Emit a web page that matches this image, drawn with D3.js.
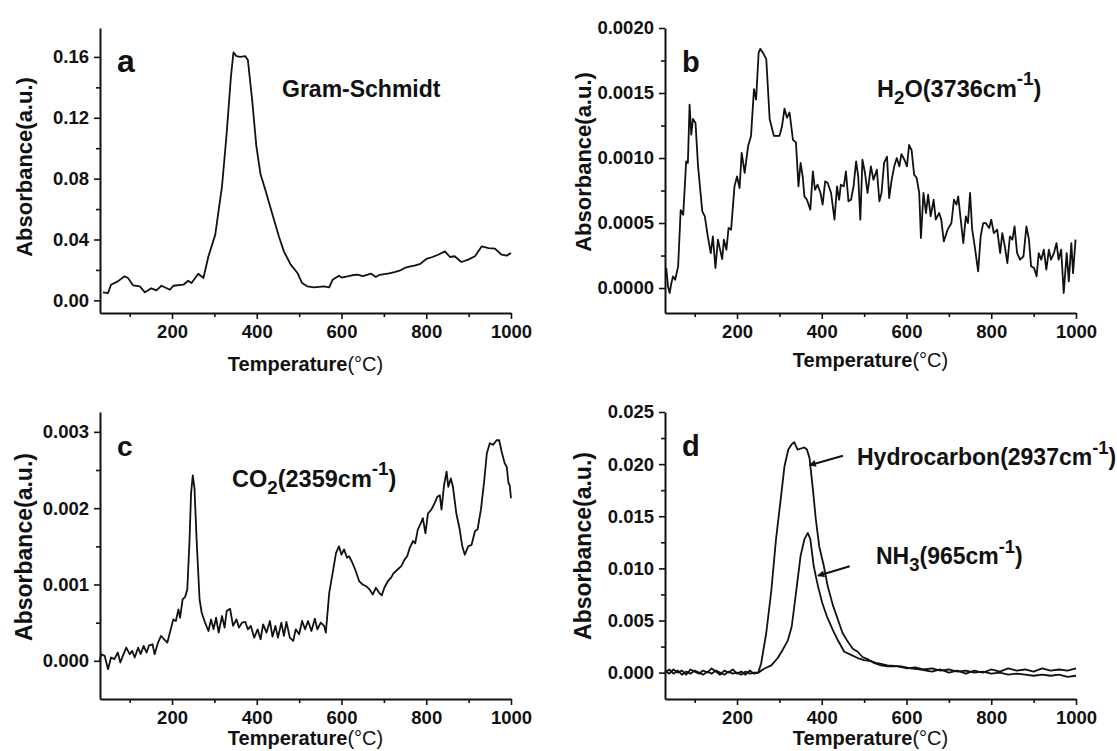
<!DOCTYPE html>
<html>
<head>
<meta charset="utf-8">
<script src="https://cdn.jsdelivr.net/npm/d3@7"></script>
<style>
  body { margin: 0; background: #fff; }
  svg text { font-family: "Liberation Sans", Arial, sans-serif; fill: #111; }
</style>
</head>
<body>
<svg id="chart"></svg>
<script>
const width = 1117;
const height = 751;

// temperature axis (all four panels)
const tempDomain = [30, 1000];
const xMajor = [200, 400, 600, 800, 1000];
const xMinor = [100, 300, 500, 700, 900];

// a: Gram-Schmidt  [T (°C), absorbance]
const gramSchmidt = [[37,0.0053],[49,0.0048],[56,0.0103],[72,0.0125],[88,0.0158],[96,0.0147],[108,0.0099],[124,0.0092],[136,0.0053],[151,0.0079],[163,0.0066],[175,0.0096],[195,0.0070],[203,0.0096],[227,0.0103],[238,0.0129],[246,0.0114],[262,0.0175],[274,0.0147],[286,0.0290],[302,0.0432],[318,0.0750],[329,0.1100],[339,0.1470],[345,0.1630],[352,0.1605],[361,0.1600],[373,0.1605],[379,0.1580],[389,0.1320],[399,0.1013],[409,0.0827],[420,0.0728],[436,0.0575],[452,0.0421],[464,0.0322],[480,0.0235],[496,0.0180],[507,0.0114],[519,0.0092],[535,0.0086],[559,0.0092],[571,0.0086],[579,0.0136],[594,0.0162],[600,0.0150],[614,0.0158],[625,0.0165],[638,0.0169],[650,0.0160],[670,0.0175],[681,0.0154],[690,0.0168],[701,0.0173],[712,0.0178],[725,0.0186],[737,0.0195],[749,0.0213],[760,0.0222],[772,0.0228],[786,0.0240],[800,0.0272],[815,0.0285],[828,0.0300],[844,0.0322],[856,0.0285],[867,0.0290],[883,0.0252],[899,0.0268],[915,0.0290],[931,0.0355],[947,0.0344],[962,0.0340],[978,0.0300],[990,0.0294],[1000,0.0311]];
const yTicksA = [0, 0.04, 0.08, 0.12, 0.16];
const yMinorA = [0.02, 0.06, 0.10, 0.14];

// b: H2O 3736 cm-1
const water = [[33,0.000154],[37,0.000013],[41,-0.000038],[45,0.000038],[49,0.00009],[54,0.000064],[61,0.000167],[67,0.0006],[73,0.000564],[80,0.000974],[84,0.000962],[88,0.00141],[92,0.00118],[96,0.0013],[102,0.00127],[108,0.000936],[118,0.00059],[124,0.000551],[131,0.000397],[138,0.000269],[143,0.000397],[149,0.000154],[155,0.000372],[160,0.000295],[165,0.000223],[169,0.000372],[175,0.000295],[180,0.000462],[186,0.000449],[194,0.000782],[200,0.000859],[206,0.000769],[211,0.00104],[218,0.000885],[226,0.00109],[233,0.00117],[240,0.00153],[245,0.00145],[251,0.00181],[255,0.00184],[261,0.00181],[269,0.00176],[277,0.0013],[287,0.00117],[300,0.00117],[306,0.00124],[312,0.00138],[318,0.00131],[324,0.00135],[332,0.00114],[339,0.00112],[345,0.000782],[350,0.000962],[355,0.000859],[359,0.000705],[365,0.000679],[373,0.000603],[379,0.000897],[384,0.000756],[390,0.000795],[397,0.000731],[402,0.000641],[408,0.000821],[414,0.000808],[422,0.000731],[430,0.000526],[436,0.000782],[441,0.000679],[445,0.000795],[452,0.000782],[457,0.000897],[463,0.000667],[469,0.000679],[475,0.000782],[481,0.000974],[486,0.000859],[491,0.000526],[496,0.000987],[502,0.000885],[508,0.000731],[516,0.000936],[522,0.000833],[530,0.00091],[536,0.000667],[541,0.000731],[547,0.000962],[554,0.00101],[559,0.000692],[565,0.000833],[571,0.000936],[577,0.001],[583,0.000936],[588,0.00103],[595,0.000987],[601,0.000936],[606,0.0011],[612,0.00106],[618,0.000872],[624,0.000846],[630,0.000731],[634,0.000385],[640,0.000731],[646,0.000577],[651,0.000718],[657,0.000551],[664,0.000679],[669,0.000526],[677,0.000577],[682,0.000526],[688,0.000359],[697,0.000449],[706,0.0005],[712,0.000679],[718,0.000641],[722,0.000705],[728,0.000526],[734,0.000346],[740,0.000551],[745,0.0005],[750,0.000731],[755,0.000449],[761,0.000321],[769,0.000128],[775,0.000397],[781,0.0005],[787,0.0005],[795,0.000462],[800,0.000526],[806,0.000423],[814,0.000449],[821,0.000269],[826,0.000423],[832,0.000321],[838,0.000192],[844,0.000397],[850,0.000372],[855,0.000474],[861,0.000269],[868,0.000218],[876,0.000244],[883,0.000474],[889,0.000372],[894,0.000167],[901,0.000154],[907,0.00009],[912,0.000269],[918,0.000218],[924,0.000295],[930,0.000141],[936,0.000295],[941,0.000218],[948,0.000269],[954,0.000346],[959,0.000218],[965,0.000295],[971,-0.000038],[978,0.000269],[983,0.000051],[989,0.000346],[993,0.000115],[999,0.000372]];
const yTicksB = [0, 0.0005, 0.001, 0.0015, 0.002];
const yMinorB = [0.00025, 0.00075, 0.00125, 0.00175];

// c: CO2 2359 cm-1
const carbonDioxide = [[29,0],[33,0.000087],[41,0.000065],[49,-0.000109],[56,0.000044],[64,0.000022],[72,0.000109],[78,-0.000022],[84,0.000065],[92,0.000174],[100,0.000087],[106,0.00013],[112,0.000044],[120,0.000174],[126,0.000087],[133,0.000196],[140,0.000109],[146,0.000204],[154,0.000217],[159,0.000087],[167,0.000239],[174,0.000326],[181,0.000283],[189,0.000239],[195,0.00037],[203,0.000543],[209,0.000522],[215,0.000674],[219,0.000565],[225,0.000804],[231,0.000839],[236,0.000935],[241,0.00154],[245,0.0022],[249,0.00243],[253,0.00226],[258,0.00159],[265,0.000804],[270,0.00063],[278,0.0005],[286,0.000391],[292,0.000543],[298,0.000413],[304,0.000565],[310,0.00037],[318,0.000587],[324,0.000435],[329,0.000652],[337,0.000683],[344,0.000457],[352,0.000543],[358,0.000435],[365,0.0005],[373,0.000509],[379,0.000413],[386,0.000457],[394,0.000304],[402,0.000413],[409,0.000283],[415,0.000478],[423,0.00037],[431,0.000522],[437,0.000317],[444,0.000457],[450,0.000304],[458,0.0005],[464,0.000326],[470,0.000509],[478,0.000304],[486,0.000261],[492,0.000413],[500,0.000348],[507,0.000522],[514,0.000413],[521,0.000522],[529,0.000391],[537,0.000552],[543,0.000413],[551,0.0005],[559,0.000457],[563,0.00037],[571,0.000891],[579,0.00115],[587,0.00141],[594,0.0015],[600,0.00139],[606,0.00146],[613,0.00135],[618,0.00137],[626,0.00128],[634,0.00117],[642,0.00104],[650,0.001],[658,0.000978],[666,0.000935],[674,0.00087],[681,0.000957],[689,0.000891],[695,0.000857],[701,0.000957],[709,0.00104],[717,0.00109],[723,0.00115],[733,0.0012],[741,0.00124],[749,0.00133],[755,0.00137],[761,0.00148],[769,0.00157],[774,0.00154],[780,0.00172],[787,0.0018],[792,0.00187],[798,0.00167],[804,0.00193],[812,0.00198],[820,0.00207],[826,0.00215],[832,0.00217],[836,0.00198],[842,0.0023],[848,0.00248],[852,0.00228],[858,0.00239],[863,0.00228],[871,0.00193],[879,0.00172],[885,0.0015],[891,0.00139],[899,0.0015],[907,0.00152],[915,0.0017],[921,0.00172],[929,0.00198],[937,0.00237],[943,0.00272],[950,0.00285],[958,0.00283],[966,0.00289],[972,0.00289],[978,0.00274],[985,0.00259],[990,0.00254],[994,0.00233],[997,0.0023],[1000,0.00213]];
const yTicksC = [0, 0.001, 0.002, 0.003];
const yMinorC = [0.0005, 0.0015, 0.0025];

// d: hydrocarbon 2937 cm-1 and NH3 965 cm-1
const hydrocarbon = [[30,0.0002],[40,-0.0001],[50,0.0003],[60,0.0000],[70,0.0002],[80,-0.0002],[90,0.0003],[100,0.0001],[110,-0.0001],[120,0.0002],[130,0.0000],[140,0.0004],[150,0.0001],[160,-0.0002],[170,0.0002],[180,0.0000],[190,0.0003],[200,-0.0001],[210,0.0001],[220,-0.0002],[230,0.0002],[240,-0.0001],[250,0.0000],[257,0.0009],[269,0.0038],[281,0.0079],[292,0.0128],[303,0.0166],[312,0.0198],[321,0.0214],[329,0.0219],[335,0.0221],[343,0.0214],[351,0.0215],[359,0.0216],[365,0.0214],[371,0.0206],[379,0.0176],[386,0.0147],[394,0.0121],[405,0.0102],[414,0.0083],[426,0.0065],[438,0.0051],[449,0.0038],[461,0.0030],[473,0.0023],[485,0.0020],[496,0.0015],[508,0.0013],[524,0.0009],[540,0.0007],[555,0.0006],[579,0.0006],[602,0.0004],[620,0.0005],[640,0.0003],[660,0.0004],[680,0.0002],[700,0.0003],[720,0.0001],[740,0.0002],[760,0.0000],[780,0.0001],[800,-0.0001],[820,0.0000],[840,-0.0002],[860,-0.0001],[880,-0.0002],[900,-0.0003],[920,-0.0002],[940,-0.0003],[960,-0.0002],[980,-0.0004],[1000,-0.0003]];
const ammonia = [[30,0.0000],[40,0.0003],[50,-0.0001],[60,0.0002],[70,-0.0002],[80,0.0001],[90,-0.0001],[100,0.0002],[110,0.0000],[120,-0.0002],[130,0.0001],[140,-0.0001],[150,0.0002],[160,0.0000],[170,-0.0002],[180,0.0001],[190,-0.0001],[200,0.0000],[210,-0.0002],[220,0.0001],[230,-0.0001],[240,0.0000],[250,0.0000],[265,0.0004],[281,0.0007],[296,0.0014],[308,0.0022],[320,0.0031],[329,0.0044],[339,0.0076],[350,0.0112],[359,0.0128],[367,0.0134],[373,0.0128],[381,0.0102],[391,0.0083],[401,0.0067],[412,0.0054],[426,0.0041],[438,0.0031],[453,0.0020],[469,0.0017],[485,0.0014],[500,0.0012],[516,0.0011],[532,0.0009],[555,0.0007],[587,0.0006],[610,0.0004],[634,0.0003],[660,0.0001],[680,0.0003],[700,0.0000],[720,0.0002],[740,-0.0001],[760,0.0002],[780,0.0000],[800,0.0003],[820,0.0001],[840,0.0004],[860,0.0002],[880,0.0003],[900,0.0001],[920,0.0004],[940,0.0002],[960,0.0003],[980,0.0002],[1000,0.0004]];
const yTicksD = [0, 0.005, 0.010, 0.015, 0.020, 0.025];
const yMinorD = [0.0025, 0.0075, 0.0125, 0.0175, 0.0225];

// arrows in panel d, [tail, head] in data units
const hcArrow = [[450, 0.0208], [371, 0.0199]];
const nh3Arrow = [[466, 0.0102], [391, 0.0093]];

const svg = d3.select("#chart")
              .attr("width", width)
              .attr("height", height);

svg.append("defs").append("marker")
   .attr("id", "head")
   .attr("viewBox", "0 0 10 10")
   .attr("refX", 9).attr("refY", 5)
   .attr("markerWidth", 10).attr("markerHeight", 7)
   .attr("markerUnits", "userSpaceOnUse")
   .attr("orient", "auto")
   .append("path").attr("d", "M0,0 L10,5 L0,10 z").attr("fill", "#111");

const panels = [
  { left: 100, top: 28, right: 511, bottom: 313, yDomain: [-0.0083, 0.179], ticks: yTicksA, minor: yMinorA, fmt: ".2f",
    series: [gramSchmidt], letter: "a", letterSize: 32, titleY: 371, yTitle: [24, 167], ySize: 22 },
  { left: 665, top: 28, right: 1076, bottom: 313, yDomain: [-0.000192, 0.002], ticks: yTicksB, minor: yMinorB, fmt: ".4f",
    series: [water], letter: "b", letterSize: 29, titleY: 367, yTitle: [583, 162], ySize: 22 },
  { left: 100, top: 412, right: 511, bottom: 699, yDomain: [-0.0005, 0.00326], ticks: yTicksC, minor: yMinorC, fmt: ".3f",
    series: [carbonDioxide], letter: "c", letterSize: 28, titleY: 745, yTitle: [24, 547], ySize: 23 },
  { left: 665, top: 412, right: 1076, bottom: 699, yDomain: [-0.00253, 0.025], ticks: yTicksD, minor: yMinorD, fmt: ".3f",
    series: [hydrocarbon, ammonia], letter: "d", letterSize: 29, titleY: 745, yTitle: [583, 546], ySize: 23 }
];

function richText(g, x, y, parts, size) {
  const t = g.append("text").attr("x", x).attr("y", y)
             .attr("font-size", size).attr("font-weight", "bold");
  let shift = 0;
  parts.forEach(p => {
    const target = p.sub ? 0.3 * size : p.sup ? -0.5 * size : 0;
    t.append("tspan")
     .attr("dy", target - shift)
     .attr("font-size", p.sub || p.sup ? size * 0.8 : size)
     .text(p.t);
    shift = target;
  });
  return t;
}

panels.forEach(p => {
  const g = svg.append("g");
  const x = d3.scaleLinear().domain(tempDomain).range([p.left, p.right]);
  const y = d3.scaleLinear().domain(p.yDomain).range([p.bottom, p.top]);
  p.x = x; p.y = y; p.g = g;

  // minor ticks
  g.append("g").attr("transform", `translate(0,${p.bottom})`)
   .call(d3.axisBottom(x).tickValues(xMinor).tickSize(4).tickSizeOuter(0).tickFormat(""))
   .call(a => a.select(".domain").remove());
  g.append("g").attr("transform", `translate(${p.left},0)`)
   .call(d3.axisLeft(y).tickValues(p.minor).tickSize(4).tickSizeOuter(0).tickFormat(""))
   .call(a => a.select(".domain").remove());

  const xAxis = g.append("g").attr("transform", `translate(0,${p.bottom})`)
   .call(d3.axisBottom(x).tickValues(xMajor).tickSize(6).tickSizeOuter(0).tickPadding(6).tickFormat(d3.format("d")));
  const yAxis = g.append("g").attr("transform", `translate(${p.left},0)`)
   .call(d3.axisLeft(y).tickValues(p.ticks).tickSize(6).tickSizeOuter(0).tickPadding(5).tickFormat(d3.format(p.fmt)));

  g.selectAll(".tick line").attr("stroke", "#111").attr("stroke-width", 1.6);
  [xAxis, yAxis].forEach(a => {
    a.select(".domain").attr("stroke", "#111").attr("stroke-width", 2);
    a.selectAll("text").attr("font-size", 18.5).attr("font-weight", "bold")
     .attr("font-family", "'Liberation Sans', Arial, sans-serif").attr("fill", "#111");
  });

  const line = d3.line().x(d => x(d[0])).y(d => y(d[1]));
  p.series.forEach(s => {
    g.append("path").datum(s).attr("d", line)
     .attr("fill", "none").attr("stroke", "#111")
     .attr("stroke-width", 1.8).attr("stroke-linejoin", "round");
  });

  // axis titles
  const tt = g.append("text").attr("x", (p.left + p.right) / 2).attr("y", p.titleY)
              .attr("text-anchor", "middle").attr("font-size", 20);
  tt.append("tspan").attr("font-weight", "bold").text("Temperature");
  tt.append("tspan").attr("font-weight", "normal").text("(°C)");

  g.append("text")
   .attr("transform", `translate(${p.yTitle[0]},${p.yTitle[1]}) rotate(-90)`)
   .attr("text-anchor", "middle").attr("dy", "0.35em")
   .attr("font-size", p.ySize).attr("font-weight", "bold")
   .text("Absorbance(a.u.)");

  g.append("text").attr("x", p.left + 17).attr("y", p.top + 44)
   .attr("font-size", p.letterSize).attr("font-weight", "bold").text(p.letter);
});

// annotations
const [pa, pb, pc, pd] = panels;
pa.g.append("text").attr("x", 282).attr("y", 97)
  .attr("font-size", 23).attr("font-weight", "bold").text("Gram-Schmidt");

richText(pb.g, 877, 97, [{t: "H"}, {t: "2", sub: true}, {t: "O(3736cm"}, {t: "-1", sup: true}, {t: ")"}], 23.5);
richText(pc.g, 232, 487, [{t: "CO"}, {t: "2", sub: true}, {t: "(2359cm"}, {t: "-1", sup: true}, {t: ")"}], 23.5);
richText(pd.g, 857, 465, [{t: "Hydrocarbon(2937cm"}, {t: "-1", sup: true}, {t: ")"}], 23);
richText(pd.g, 876, 564, [{t: "NH"}, {t: "3", sub: true}, {t: "(965cm"}, {t: "-1", sup: true}, {t: ")"}], 23);

[hcArrow, nh3Arrow].forEach(a => {
  pd.g.append("line")
    .attr("x1", pd.x(a[0][0])).attr("y1", pd.y(a[0][1]))
    .attr("x2", pd.x(a[1][0])).attr("y2", pd.y(a[1][1]))
    .attr("stroke", "#111").attr("stroke-width", 2)
    .attr("marker-end", "url(#head)");
});
</script>
</body>
</html>
